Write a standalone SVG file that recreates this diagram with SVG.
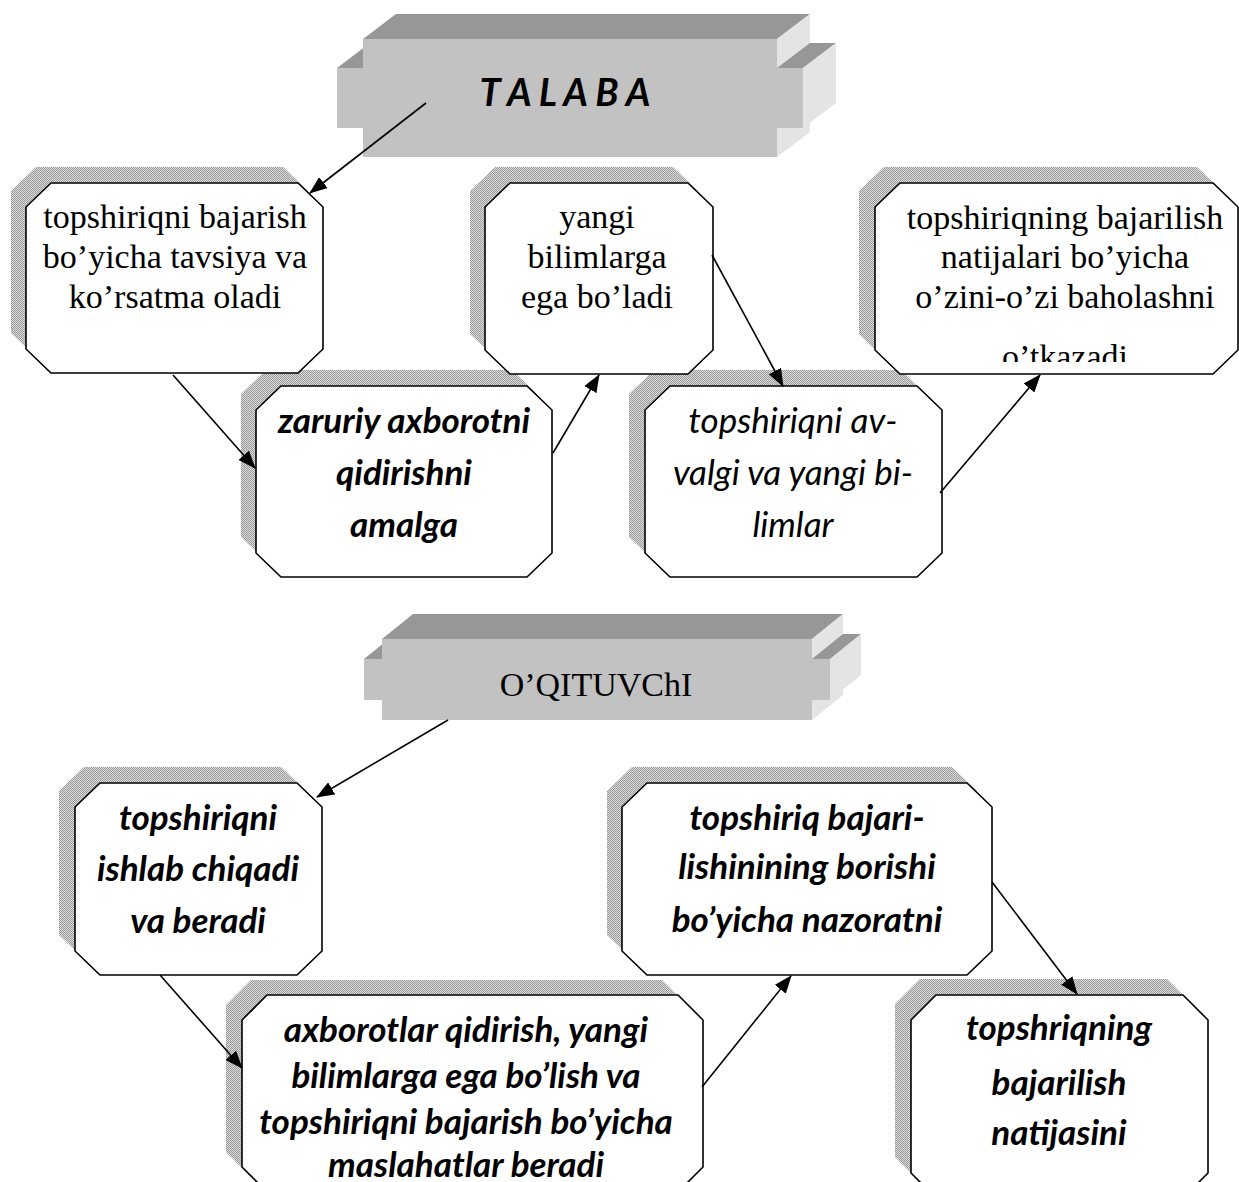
<svg xmlns="http://www.w3.org/2000/svg" width="1239" height="1182" viewBox="0 0 1239 1182">
<defs>
<pattern id="dots" width="2" height="2" patternUnits="userSpaceOnUse">
<rect width="2" height="2" fill="#dcdcdc"/>
<rect width="1" height="1" fill="#999"/>
<rect x="1" y="1" width="1" height="1" fill="#999"/>
</pattern>
<marker id="arr" markerUnits="userSpaceOnUse" markerWidth="18" markerHeight="14" refX="17" refY="7" orient="auto">
<path d="M0,0 L18,7 L0,14 z" fill="#000"/>
</marker>
<clipPath id="clip3"><rect x="875" y="183" width="364" height="179"/></clipPath>
</defs>
<style>
.sh{fill:url(#dots);stroke:none}
.bx{fill:#fff;stroke:#000;stroke-width:1.6}
.top{fill:#979797}
.side{fill:#e4e4e4}
.front{fill:#c2c2c2}
.serif{font-family:"Liberation Serif","Times New Roman",serif;font-size:34px;fill:#000;text-anchor:middle}
.sb{font-family:Lato,"Open Sans",sans-serif;font-size:35px;font-weight:bold;font-style:italic;fill:#000;text-anchor:middle}
.si{font-family:Lato,"Open Sans",sans-serif;font-size:35px;font-style:italic;fill:#000;text-anchor:middle}
.ln{stroke:#000;stroke-width:1.6;fill:none;marker-end:url(#arr)}
</style>
<rect width="1239" height="1182" fill="#fff"/>

<g id="talaba">
<polygon class="top" points="363,39 396,14 810,14 777,39"/>
<polygon class="side" points="777,39 810,14 810,132 777,157"/>
<polygon class="top" points="337,68 370,43 396,43 363,68"/>
<polygon class="top" points="777,68 810,43 836,43 803,68"/>
<polygon class="side" points="803,68 836,43 836,103 803,128"/>
<polygon class="front" points="363,39 777,39 777,68 803,68 803,128 777,128 777,157 363,157 363,128 337,128 337,68 363,68"/>
<text x="565" y="106" class="sb" style="font-size:38px">T A L A B A</text>
</g>

<g id="oqituvchi">
<polygon class="top" points="382,639 413,614 843,614 812,639"/>
<polygon class="side" points="812,639 843,614 843,695 812,720"/>
<polygon class="top" points="364,659 395,634 413,634 382,659"/>
<polygon class="top" points="812,659 843,634 861,634 830,659"/>
<polygon class="side" points="830,659 861,634 861,675 830,700"/>
<polygon class="front" points="382,639 812,639 812,659 830,659 830,700 812,700 812,720 382,720 382,700 364,700 364,659 382,659"/>
<text x="596" y="696" class="serif">O’QITUVChI</text>
</g>

<g id="n4">
<polygon class="sh" points="266,370 512,370 537,394 537,537 512,561 266,561 241,537 241,394"/>
<polygon class="bx" points="281,386 527,386 552,410 552,553 527,577 281,577 256,553 256,410"/>
<text class="sb" x="404" y="433">zaruriy axborotni</text>
<text class="sb" x="404" y="485">qidirishni</text>
<text class="sb" x="404" y="537">amalga</text>
</g>

<g id="n5">
<polygon class="sh" points="654,370 901,370 926,394 926,537 901,561 654,561 629,537 629,394"/>
<polygon class="bx" points="670,386 917,386 942,410 942,553 917,577 670,577 645,553 645,410"/>
<text class="si" x="793" y="433">topshiriqni av-</text>
<text class="si" x="793" y="485">valgi va yangi bi-</text>
<text class="si" x="793" y="537">limlar</text>
</g>

<g id="n1">
<polygon class="sh" points="36,167 283,167 308,191 308,333 283,357 36,357 11,333 11,191"/>
<polygon class="bx" points="51,183 298,183 323,207 323,349 298,373 51,373 26,349 26,207"/>
<text class="serif" x="175" y="228">topshiriqni bajarish</text>
<text class="serif" x="175" y="268">bo’yicha tavsiya va</text>
<text class="serif" x="175" y="308">ko’rsatma oladi</text>
</g>

<g id="n2">
<polygon class="sh" points="495,167 673,167 698,191 698,334 673,358 495,358 470,334 470,191"/>
<polygon class="bx" points="510,183 688,183 713,207 713,350 688,374 510,374 485,350 485,207"/>
<text class="serif" x="597" y="228">yangi</text>
<text class="serif" x="597" y="268">bilimlarga</text>
<text class="serif" x="597" y="308">ega bo’ladi</text>
</g>

<g id="n3">
<polygon class="sh" points="884,167 1197,167 1222,191 1222,334 1197,358 884,358 859,334 859,191"/>
<polygon class="bx" points="900,183 1213,183 1238,207 1238,350 1213,374 900,374 875,350 875,207"/>
<g clip-path="url(#clip3)">
<text class="serif" x="1065" y="229">topshiriqning bajarilish</text>
<text class="serif" x="1065" y="268">natijalari bo’yicha</text>
<text class="serif" x="1065" y="308">o’zini-o’zi baholashni</text>
<text class="serif" x="1065" y="368">o’tkazadi</text>
</g>
</g>

<g id="n6">
<polygon class="sh" points="84,767 281,767 306,791 306,935 281,959 84,959 59,935 59,791"/>
<polygon class="bx" points="100,783 297,783 322,807 322,951 297,975 100,975 75,951 75,807"/>
<text class="sb" x="198" y="830">topshiriqni</text>
<text class="sb" x="198" y="881">ishlab chiqadi</text>
<text class="sb" x="198" y="933">va beradi</text>
</g>

<g id="n7">
<polygon class="sh" points="632,767 952,767 977,791 977,935 952,959 632,959 607,935 607,791"/>
<polygon class="bx" points="647,783 967,783 992,807 992,951 967,975 647,975 622,951 622,807"/>
<text class="sb" x="807" y="830">topshiriq bajari-</text>
<text class="sb" x="807" y="879">lishinining borishi</text>
<text class="sb" x="807" y="932">bo’yicha nazoratni</text>
</g>

<g id="n8">
<polygon class="sh" points="251,980 662,980 687,1005 687,1152 662,1177 251,1177 226,1152 226,1005"/>
<polygon class="bx" points="267,995 678,995 703,1020 703,1167 678,1192 267,1192 242,1167 242,1020"/>
<text class="sb" x="466" y="1042">axborotlar qidirish, yangi</text>
<text class="sb" x="466" y="1088">bilimlarga ega bo’lish va</text>
<text class="sb" x="466" y="1134">topshiriqni bajarish bo’yicha</text>
<text class="sb" x="466" y="1177">maslahatlar beradi</text>
</g>

<g id="n9">
<polygon class="sh" points="920,979 1167,979 1192,1004 1192,1157 1167,1182 920,1182 895,1157 895,1004"/>
<polygon class="bx" points="936,995 1183,995 1208,1020 1208,1173 1183,1198 936,1198 911,1173 911,1020"/>
<text class="sb" x="1059" y="1040">topshriqning</text>
<text class="sb" x="1059" y="1095">bajarilish</text>
<text class="sb" x="1059" y="1145">natijasini</text>
</g>

<g id="connectors">
<line class="ln" x1="426" y1="103" x2="310" y2="193"/>
<line class="ln" x1="173" y1="375" x2="255" y2="468"/>
<line class="ln" x1="553" y1="453" x2="599" y2="375"/>
<line class="ln" x1="712" y1="255" x2="783" y2="386"/>
<line class="ln" x1="940" y1="493" x2="1040" y2="375"/>
<line class="ln" x1="448" y1="720" x2="317" y2="797"/>
<line class="ln" x1="160" y1="975" x2="242" y2="1068"/>
<line class="ln" x1="702" y1="1087" x2="791" y2="976"/>
<line class="ln" x1="992" y1="882" x2="1077" y2="994"/>
</g>
</svg>
